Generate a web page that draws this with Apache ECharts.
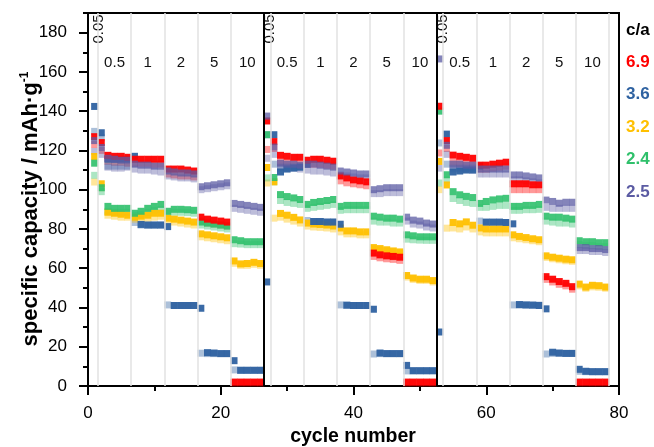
<!DOCTYPE html>
<html><head><meta charset="utf-8">
<script src="https://cdn.jsdelivr.net/npm/echarts@6/dist/echarts.min.js"></script>
<style>html,body{margin:0;padding:0;background:#fff}#c{width:654px;height:447px}</style>
</head><body><div id="c"></div>
<script>
// cycle numbers 1..78
const cycles = [1,2,3,4,5,6,7,8,9,10,11,12,13,14,15,16,17,18,19,20,21,22,23,24,25,26,
 27,28,29,30,31,32,33,34,35,36,37,38,39,40,41,42,43,44,45,46,47,48,49,50,51,52,
 53,54,55,56,57,58,59,60,61,62,63,64,65,66,67,68,69,70,71,72,73,74,75,76,77,78];

// c/a = 6.9 (dark = full colour, light = pale)
const red_D = [127,124,117.5,117,117,116.5,115.5,115.5,115.5,115.5,115.5,110.5,110.5,110.5,110,109.5,86,85,84.5,84,83.5,2,2,2,2,2,
 135,124.5,117.5,117,116.5,116.5,115,115.5,115.5,115,114.5,107,106,105,104.5,104,67.7,66.8,66.3,66,65.6,2,2,2,2,2,
 142.5,125,117.6,117,116.5,116,112.5,112.5,113,113.5,114,103,103,103,102.5,102.5,55.7,54.4,53.2,52.3,50.6,2,2,2,2,2];
const red_L = [123,120,114.5,114,114,113.5,113.5,113.5,113.5,113,113,108,107.5,107,107,106.5,84,83,82.5,82,81.5,1.5,1.5,1.5,1.5,1.5,
 120.5,121,114,113.5,113.5,113,113,113,113,112.5,112,104.5,103.5,103,102.5,102,66,65.3,64.8,64.5,64,1.5,1.5,1.5,1.5,1.5,
 118.7,121,114,113.5,113.5,113,110.5,110.5,111,111.5,112,100,100,100,100,100,54.3,53,51.8,51,49.3,1.5,1.5,1.5,1.5,1.5];
// c/a = 3.6
const blue_D = [142.4,129,115.5,115.5,115.5,115.5,117,82.3,82,82,82,81.2,41,41,41,41,39.6,17,16.8,16.5,16.5,12.9,8,8,8,8,
 53,128,109,110.5,111,111.5,113,83.8,83.8,83.5,83.5,82.4,41.2,41,41,41,39.1,16.8,16.5,16.5,16.5,10.5,7.8,7.8,7.8,7.8,
 27.5,128.3,109,109.5,110,110,112,83.5,83.5,83.5,83.3,82.6,41.5,41.3,41.2,41,39.3,17.2,16.8,16.6,16.6,8.5,7.5,7.3,7.3,7.3];
const blue_L = [129.7,126.5,112,112,112,112,83.3,82,82,82,82,41.3,41,41,41,41,16.7,16.5,16.5,16.5,16.5,8.2,8,8,8,8,
 128,113,111.5,111.5,111.5,111.5,84.3,83.5,83.5,83.5,83.5,41.3,41,41,41,41,16.3,16.5,16.5,16.5,16.5,7.7,7.7,7.7,7.7,7.7,
 123.8,113,111,111,111,111,84,83.3,83.3,83.3,83.3,41.3,41.2,41.2,41.2,41.2,16.3,16.6,16.6,16.6,16.6,7.5,7.3,7.3,7.3,7.3];
// c/a = 3.2
const yellow_D = [116.9,103,88.5,88,87.5,87,86,86.5,87,88,88,85.5,85,84.5,84,83.5,77.5,77,76.5,76,75.5,63.7,62.2,62.4,63,62.4,
 111.3,104,87.9,87,85.9,84.6,83,82.5,82.3,82,81.5,80.5,79,79,78.5,78.5,70.5,70,69.4,68.8,68.3,56.3,55,54.4,54.4,53.7,
 114.4,102.4,83.3,82.6,83.6,81.9,80.5,80,80,80,80,77,76.2,75.6,75,74.5,66.3,65.6,65.1,64.6,64.3,51.9,50.4,51.3,51.1,50.4];
const yellow_L = [103.9,101,87,86.5,86,86,85,85,85.5,86,86.5,84,83.5,83,82.5,82,76,75.5,75,74.5,74,62.5,61.5,61.5,62,61.5,
 103.4,85.5,86,85,84,83,81.5,81,80.8,80.5,80,78.5,77.5,77.5,77,77,69.5,69,68.5,68,67.5,55.5,54.3,53.8,53.8,53,
 100,80.4,80.5,80,81,80,78.5,78,78,78,78,75.5,75,74.5,74,73.5,65.5,64.8,64.3,63.8,63.5,51,49.8,50.5,50.3,49.8];
// c/a = 2.4
const green_D = [113.5,101,91.5,90.5,90.5,90.5,88,89,90.5,91.5,92.5,89,90,90,89.8,89.5,83.5,83,82.5,82,81.5,74.5,74,73.5,73.5,73.5,
 128,106.2,97.5,96.5,95.8,95,92.5,93.5,94,94.5,95,91.5,92,92,92,92,86.5,86,85.5,85.5,85,77,76.5,76,76,76,
 140,107.6,99,97.4,96.6,96,93,94,94.8,95.3,95.6,91.5,91.5,92,92,92.5,86.5,86,86,85.5,85,74,73.5,73.5,73,73];
const green_L = [107.3,99,89,88.5,88.5,88.5,87,87.5,88.5,89.5,90,88,88.5,88.5,88.3,88,82,81.5,81,80.5,80,72.5,72.3,72,72,72,
 106,104,94.5,93.5,93,92.5,90.5,91,91.5,92,92.5,89.5,89.8,89.8,89.8,89.8,84,83.5,83.5,83,83,74.8,74.5,74.3,74.2,74.2,
 103.4,105,95.5,94.5,93.5,93,91,91,91.5,92,92,89.5,89.5,89.8,89.8,90,84,83.5,83,83,82.5,72,71.5,71.5,71,71];
// c/a = 2.5
const purple_D = [125,121.5,116,115.5,115,115,113,112.5,112.5,112,112,109.5,109,108.5,108.5,108,101.5,102,102.5,103,103.5,93,92.5,92,91.5,91,
 137.5,121.7,113.5,113,113,112.5,113,113,112.5,112,111.5,109.5,109,108.5,108,108,100,100.5,101,101,101,86,84.5,84,83,82.5,
 166.6,122.6,113,113,112.5,112.5,110.5,110.5,110.5,110.5,110.5,107.5,107.5,107,106.5,106,94.7,94,93.1,93.6,93.6,70.5,70.5,70,70,69.5];
const purple_L = [119.5,118,111.5,111,111,111.5,110.5,110,110,109.5,109,107,106.5,106,106,105.5,100,100.5,101,101.5,102,90.5,90,89.5,89,88.5,
 116,118,111,111,111,110.5,110,109.5,109.5,109,108.5,107.5,107,106.5,106,106,98,98,98.5,98.5,98.5,84,82.5,82,81,80.5,
 111,118,110.5,110.5,110.5,110,108,108,108,108,108,105,105,104.5,104,103.5,91,90.5,90.5,90.5,90.5,69,69,68.5,68.5,68];

const legendNames = ['6.9','3.6','3.2','2.4','2.5'];
const rateDividers = [1.5,6.5,11.5,16.5,21.5,27.5,32.5,37.5,42.5,47.5,53.5,58.5,63.5,68.5,73.5,78.5];
const panelDividers = [26.5,52.5];
const rateLabels = ['0.5','1','2','5','10'];
const rateCenters = [[4,9,14,19,24],[30,35,40,45,50],[56,61,66,71,76]];
const slowLabelX = [1.6,27.4,53.4];
const yTicks = [0,20,40,60,80,100,120,140,160,180];

const FONT = 'Liberation Sans, Arial, sans-serif';
const C = {red:'#ff0000', blue:'#2f62a1', yellow:'#ffc000', green:'#2fc06b', purple:'#5b5ba3'};

function pts(arr){ return cycles.map((c,i)=>[c, arr[i]]); }
function ser(name, arr, color, op, z){
  return {type:'scatter', name:name, data:pts(arr), symbol:'rect', symbolSize:[7,7],
    itemStyle:{color:color, opacity:op}, z:z, silent:true, animation:false};
}

const series = [
  {type:'line', data:[], z:1, silent:true,
   markLine:{silent:true, symbol:'none', animation:false, label:{show:false},
     data: rateDividers.map(x=>({xAxis:x, lineStyle:{color:'#e2e2e2', width:1.5, type:'solid'}}))
       .concat(panelDividers.map(x=>({xAxis:x, lineStyle:{color:'#000', width:2, type:'solid'}})))}},
  ser('rL', red_L, C.red, 0.4, 2),
  ser('bL', blue_L, C.blue, 0.4, 2),
  ser('yL', yellow_L, C.yellow, 0.4, 2),
  ser('gL', green_L, C.green, 0.4, 2),
  ser('pL', purple_L, C.purple, 0.4, 2),
  ser('yD', yellow_D, C.yellow, 0.95, 3),
  ser('gD', green_D, C.green, 0.9, 3),
  ser('bD', blue_D, C.blue, 0.95, 3),
  ser('rD', red_D, C.red, 0.95, 3),
  ser('pD', purple_D, C.purple, 0.75, 3)
];

const chart = echarts.init(document.getElementById('c'), null, {renderer:'canvas'});
chart.setOption({
  animation:false,
  backgroundColor:'#fff',
  grid:{left:88, right:35, top:13, bottom:61, show:true, borderColor:'#000', borderWidth:2, backgroundColor:'rgba(0,0,0,0)'},
  xAxis:{type:'value', min:0, max:80, interval:20,
    axisLine:{show:true, onZero:false, lineStyle:{color:'#000', width:2}},
    axisTick:{show:true, length:9, lineStyle:{color:'#000', width:2}},
    minorTick:{show:true, splitNumber:2, length:5, lineStyle:{color:'#000', width:2}},
    splitLine:{show:false}, minorSplitLine:{show:false},
    axisLabel:{color:'#000', fontSize:17, fontFamily:FONT, margin:19}},
  yAxis:[
    {type:'value', min:0, max:190, interval:10,
     axisLine:{show:true, onZero:false, lineStyle:{color:'#000', width:2}},
     axisTick:{show:true, length:5, lineStyle:{color:'#000', width:2}},
     splitLine:{show:false}, axisLabel:{show:false}},
    {type:'value', min:0, max:190, interval:20, position:'left',
     axisLine:{show:false},
     axisTick:{show:true, length:9, customValues:yTicks, lineStyle:{color:'#000', width:2}},
     splitLine:{show:false},
     axisLabel:{show:true, customValues:yTicks, color:'#000', fontSize:17, fontFamily:FONT, margin:21}}
  ],
  series: series
});

// text annotations positioned through the axes
const g = [];
const px = (x,y)=>chart.convertToPixel({gridIndex:0},[x,y]);
rateCenters.forEach(row=>row.forEach((c,i)=>{
  const p = px(c, 0);
  g.push({type:'text', x:p[0], y:63, style:{text:rateLabels[i], font:'15px '+FONT, fill:'#111', align:'center', verticalAlign:'middle'}});
}));
slowLabelX.forEach(c=>{
  const p = px(c,0);
  g.push({type:'text', x:p[0], y:29, rotation:Math.PI/2, style:{text:'0.05', font:'15px '+FONT, fill:'#111', align:'center', verticalAlign:'middle'}});
});
const legendColors = [C.red, C.blue, C.yellow, C.green, C.purple];
g.push({type:'text', x:626, y:30, style:{text:'c/a', font:'bold 17px '+FONT, fill:'#000', align:'left', verticalAlign:'middle'}});
legendNames.forEach((n,i)=>{
  g.push({type:'text', x:626, y:62+i*32.5, style:{text:n, font:'bold 17px '+FONT, fill:legendColors[i], align:'left', verticalAlign:'middle'}});
});
g.push({type:'text', x:353, y:437, style:{text:'cycle number', font:'bold 19.5px '+FONT, fill:'#000', align:'center', verticalAlign:'middle'}});
g.push({type:'text', x:31, y:209, rotation:Math.PI/2, style:{
  text:'{a|specific capacity / mAh·g}{b|-1}',
  rich:{a:{font:'bold 22px '+FONT, fill:'#000'}, b:{font:'bold 12px '+FONT, fill:'#000', padding:[0,0,12,0]}},
  align:'center', verticalAlign:'middle'}});
chart.setOption({graphic:g});
</script></body></html>
